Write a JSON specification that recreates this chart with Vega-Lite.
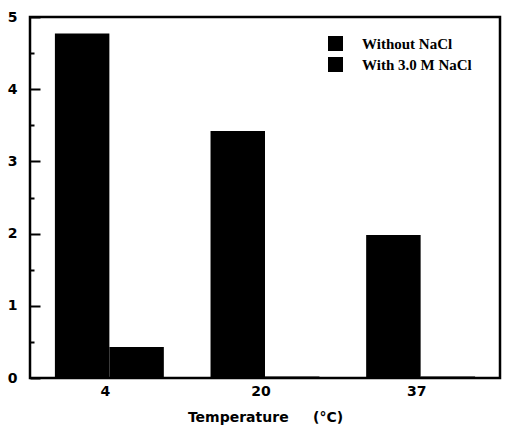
{
  "$schema": "https://vega.github.io/schema/vega-lite/v6.json",
  "width": 470,
  "height": 361,
  "autosize": "none",
  "padding": {"left": 30, "top": 17, "right": 5, "bottom": 58},
  "background": "white",
  "config": {
    "view": {"stroke": "black", "strokeWidth": 2.5},
    "font": "DejaVu Sans"
  },
  "data": {
    "values": [
      {"temp": "4", "condition": "Without NaCl", "value": 4.77},
      {"temp": "4", "condition": "With 3.0 M NaCl", "value": 0.43},
      {"temp": "20", "condition": "Without NaCl", "value": 3.42},
      {"temp": "20", "condition": "With 3.0 M NaCl", "value": 0.02},
      {"temp": "37", "condition": "Without NaCl", "value": 1.98},
      {"temp": "37", "condition": "With 3.0 M NaCl", "value": 0.02}
    ]
  },
  "mark": {"type": "bar", "color": "black"},
  "encoding": {
    "x": {
      "field": "temp",
      "type": "nominal",
      "sort": ["4", "20", "37"],
      "scale": {"paddingInner": 0.3, "paddingOuter": 0.16},
      "axis": {
        "title": "Temperature\u00a0\u00a0\u00a0\u00a0\u00a0(°C)",
        "titleFont": "DejaVu Sans",
        "titleFontWeight": 900,
        "titleFontSize": 14,
        "titlePadding": 12,
        "labelAngle": 0,
        "labelFont": "DejaVu Sans",
        "labelFontWeight": 900,
        "labelFontSize": 14,
        "labelPadding": 6,
        "labelOffset": -4,
        "ticks": false,
        "domain": false,
        "grid": false
      }
    },
    "xOffset": {
      "field": "condition",
      "type": "nominal",
      "sort": ["Without NaCl", "With 3.0 M NaCl"],
      "scale": {"paddingInner": 0, "paddingOuter": 0}
    },
    "y": {
      "field": "value",
      "type": "quantitative",
      "scale": {"domain": [0, 5], "nice": false},
      "axis": {
        "title": null,
        "values": [0, 0.5, 1, 1.5, 2, 2.5, 3, 3.5, 4, 4.5, 5],
        "labelExpr": "datum.value % 1 === 0 ? format(datum.value, 'd') : ''",
        "labelFont": "DejaVu Sans",
        "labelFontWeight": 900,
        "labelFontSize": 14,
        "labelPadding": 23,
        "tickColor": "black",
        "tickWidth": 2,
        "tickSize": {"condition": {"test": "datum.value % 1 === 0", "value": -10}, "value": -4},
        "domain": false,
        "grid": false
      }
    },
    "color": {
      "field": "condition",
      "type": "nominal",
      "sort": ["Without NaCl", "With 3.0 M NaCl"],
      "scale": {"range": ["black", "black"]},
      "legend": {
        "title": null,
        "orient": "none",
        "legendX": 298,
        "legendY": 19,
        "symbolType": "square",
        "symbolSize": 225,
        "symbolStrokeWidth": 0,
        "symbolOpacity": 1,
        "labelFont": "Liberation Serif",
        "labelFontWeight": "bold",
        "labelFontSize": 15,
        "labelColor": "black",
        "rowPadding": 5,
        "labelOffset": 19
      }
    }
  }
}
